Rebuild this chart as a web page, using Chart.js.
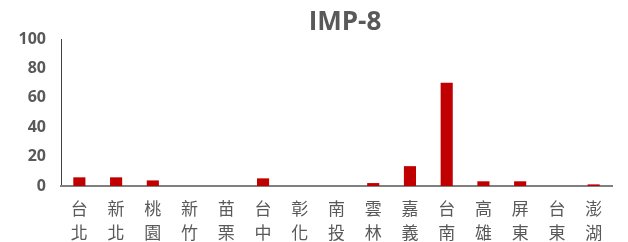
<!DOCTYPE html>
<html>
<head>
<meta charset="utf-8">
<script src="https://cdn.jsdelivr.net/npm/chart.js@4"></script>
<style>
  html, body { margin: 0; padding: 0; background: #fff; }
  #wrap { position: relative; width: 628px; height: 242px; }
  #title {
    position: absolute; left: 245px; width: 200px; top: 2px;
    text-align: center; color: #595959;
    font: bold 26px 'Open Sans', sans-serif; line-height: 36px;
  }
</style>
</head>
<body>
<div id="wrap">
  <canvas id="impChart" width="628" height="242"></canvas>
  <div id="title">IMP-8</div>
</div>
<script>
const cities = [
  ['台', '北'], ['新', '北'], ['桃', '園'], ['新', '竹'], ['苗', '栗'],
  ['台', '中'], ['彰', '化'], ['南', '投'], ['雲', '林'], ['嘉', '義'],
  ['台', '南'], ['高', '雄'], ['屏', '東'], ['台', '東'], ['澎', '湖']
];
const values = [5.9, 5.9, 3.8, 0, 0, 5.2, 0, 0, 2, 13.5, 70.2, 3.2, 3.2, 0, 1.1];
const yTicks = [0, 20, 40, 60, 80, 100];

const ctx = document.getElementById('impChart').getContext('2d');

const chart = new Chart(ctx, {
  type: 'bar',
  data: {
    labels: cities,
    datasets: [{
      label: 'IMP-8',
      data: values,
      backgroundColor: '#c00000',
      borderWidth: 0,
      barPercentage: 0.66,
      categoryPercentage: 0.5
    }]
  },
  options: {
    responsive: false,
    animation: false,
    layout: { padding: { left: 0, right: 16, top: 39, bottom: 0 } },
    plugins: {
      legend: { display: false },
      tooltip: { enabled: false },
      title: { display: false }
    },
    scales: {
      y: {
        min: 0,
        max: 100,
        afterBuildTicks: (scale) => { scale.ticks = yTicks.map(v => ({ value: v })); },
        afterFit: (scale) => { scale.width = 61; },
        grid: { display: false, drawTicks: false },
        border: { display: true, color: '#404040', width: 1 },
        ticks: {
          color: '#595959',
          padding: 15,
          font: { family: 'Open Sans', size: 16, weight: 'bold' }
        }
      },
      x: {
        afterFit: (scale) => { scale.height = 56; },
        grid: { display: false, drawTicks: false },
        border: { display: true, color: '#808080', width: 2 },
        ticks: {
          color: '#595959',
          padding: 10,
          maxRotation: 0,
          autoSkip: false,
          font: { family: 'Noto Sans CJK TC', size: 17, weight: 400, lineHeight: 1.42 }
        }
      }
    }
  }
});
</script>
</body>
</html>
